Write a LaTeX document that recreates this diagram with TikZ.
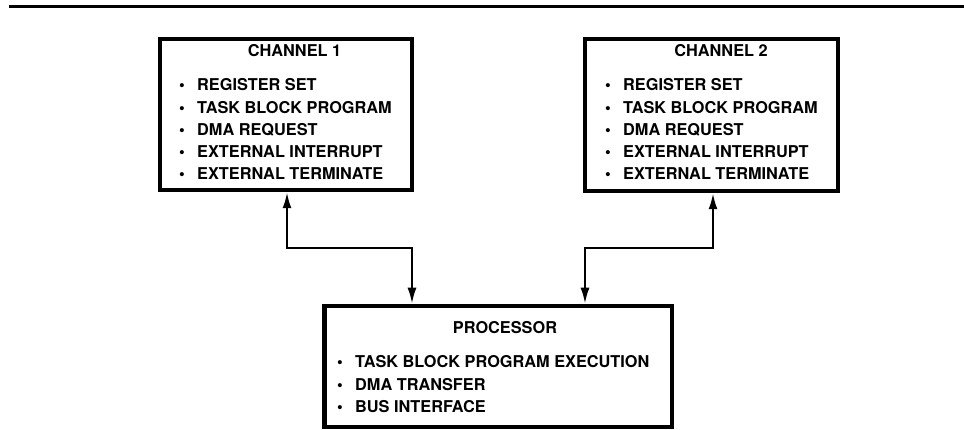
\documentclass[tikz,border=0pt]{standalone}
\usepackage{fontspec}
\setmainfont{TeX Gyre Heros}
\usetikzlibrary{arrows.meta}
\begin{document}
\begin{tikzpicture}[x=1pt,y=-1pt,
  box/.style={draw, line width=4.5pt, inner sep=0pt},
  caption/.style={font=\fontsize{16.3}{20}\selectfont\bfseries, inner sep=0pt,
                  text height=11.7pt, text depth=0pt},
  item/.style={caption, anchor=west},
  tip/.tip={Latex[length=16pt,width=9pt]},
  dlink/.style={line width=2.2pt, tip-tip}]
\useasboundingbox (0,0) rectangle (964,430);

% rule across the top of the page
\draw[line width=3pt] (9,7) -- (964,7);

% the three blocks
\node[box, minimum width=252pt, minimum height=151pt] (ch1) at (286,114.5) {};
\node[box, minimum width=253pt, minimum height=152pt] (ch2) at (711.5,115) {};
\node[box, minimum width=347.5pt, minimum height=121pt] (proc) at (498.25,366.5) {};

% titles
\node[caption] (ch1title) at (294.5,51) {CHANNEL 1};
\node[caption] (ch2title) at (721,51) {CHANNEL 2};
\node[caption] (proctitle) at (505,328) {PROCESSOR};

% channel feature lists
\foreach \t [count=\i] in {REGISTER SET, TASK BLOCK PROGRAM, DMA REQUEST,
                           EXTERNAL INTERRUPT, EXTERNAL TERMINATE} {
  \node[item] (ch1item\i) at (179,{85+22.25*(\i-1)}) {\makebox[18pt][l]{\textbullet}\t};
  \node[item] (ch2item\i) at (605,{85+22.25*(\i-1)}) {\makebox[18pt][l]{\textbullet}\t};
}

% processor feature list
\foreach \t [count=\i] in {TASK BLOCK PROGRAM EXECUTION, DMA TRANSFER, BUS INTERFACE} {
  \node[item] (procitem\i) at (337,{362+22.5*(\i-1)}) {\makebox[18pt][l]{\textbullet}\t};
}

% bends of the two links
\coordinate (k1) at (287,248);
\coordinate (k2) at (412,248);
\coordinate (k3) at (713,248);
\coordinate (k4) at (585,248);

% links between channels and processor
\draw[dlink] (ch1.south -| k1) -- (k1) -- (k2) -- (proc.north -| k2);
\draw[dlink] (ch2.south -| k3) -- (k3) -- (k4) -- (proc.north -| k4);
\end{tikzpicture}
\end{document}
